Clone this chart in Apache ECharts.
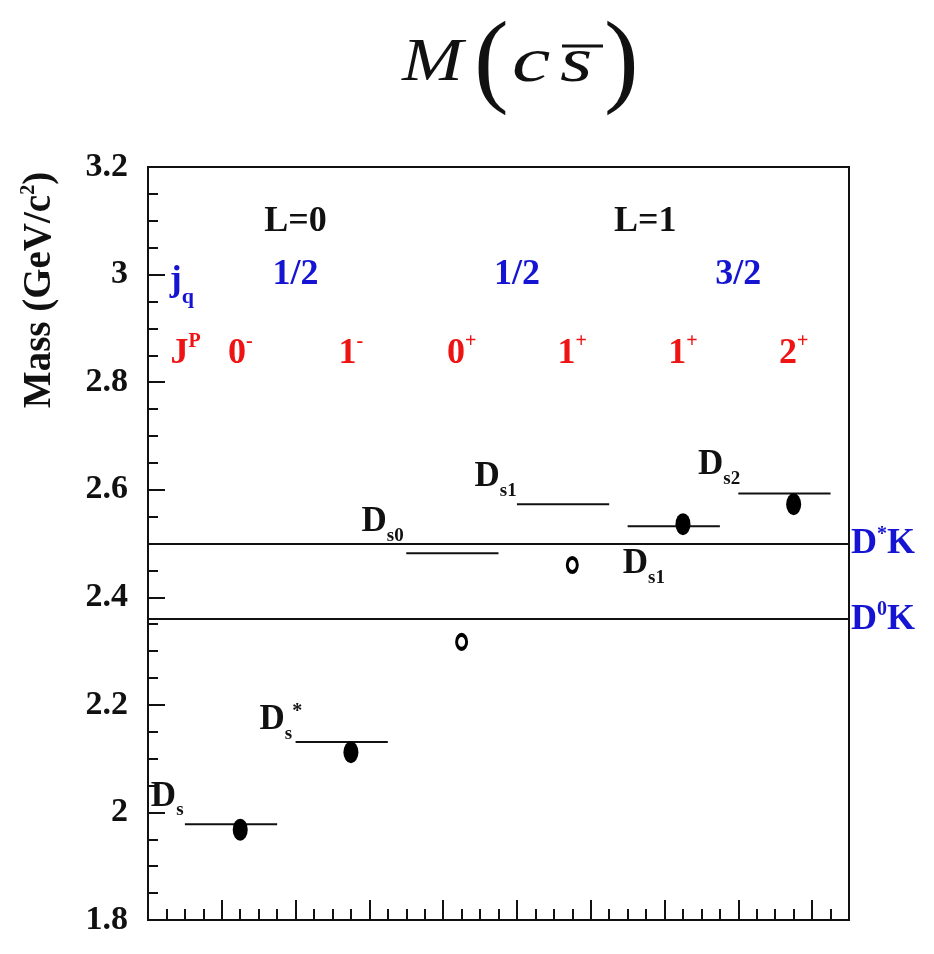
<!DOCTYPE html>
<html>
<head>
<meta charset="utf-8">
<script src="https://cdn.jsdelivr.net/npm/echarts@6/dist/echarts.min.js"></script>
<style>
  html, body { margin: 0; padding: 0; background: #fff; }
  #main { width: 934px; height: 954px; }
</style>
</head>
<body>
<div id="main"></div>
<script>
// level lines (predicted masses) and measured states, in GeV/c^2
const levelStart = [0.5, 2, 3.5, 5, 6.5, 8]
const levelEnd = [1.75, 3.25, 4.75, 6.25, 7.75, 9.25]
const levelMass = [1.978, 2.131, 2.482, 2.573, 2.532, 2.593]
const levelSub = ['s', 's', 's0', 's1', 's1', 's2']
const levelSup = ['', '*', '', '', '', '']
const levelLabelX = [0.26, 1.8, 3.18, 4.71, 6.72, 7.74]
const levelLabelMass = [2.024, 2.167, 2.534, 2.618, 2.456, 2.640]

const filledX = [1.25, 2.75, 7.25, 8.75]
const filledMass = [1.968, 2.112, 2.536, 2.573]
const openX = [4.25, 5.75]
const openMass = [2.317, 2.460]

const thresholdMass = [2.50, 2.358]
const thresholdSup = ['*', '0']

const orbitalLabels = ['L=0', 'L=1']
const orbitalX = [2.0, 6.74]
const orbitalMass = 3.098
const jqLabels = ['1/2', '1/2', '3/2']
const jqX = [2.0, 5.0, 8.0]
const jqMass = 2.999
const jpSpin = ['0', '1', '0', '1', '1', '2']
const jpParity = ['-', '-', '+', '+', '+', '+']
const jpX = [1.25, 2.75, 4.25, 5.75, 7.25, 8.75]
const jpMass = 2.856

const SERIF = '"Liberation Serif", "Times New Roman", serif'
const BLUE = '#1414d2'
const RED = '#ee1414'
const INK = '#111'

const rich = {
  hk: {fontSize: 36, fontWeight: 'bold', fontFamily: SERIF, color: INK},
  hb: {fontSize: 36, fontWeight: 'bold', fontFamily: SERIF, color: BLUE},
  jb: {fontSize: 36, fontWeight: 'bold', fontFamily: SERIF, color: BLUE, verticalAlign: 'top'},
  jbs: {fontSize: 22, fontWeight: 'bold', fontFamily: SERIF, color: BLUE, verticalAlign: 'bottom', padding: [24, 0, 0, 0]},
  rn: {fontSize: 36, fontWeight: 'bold', fontFamily: SERIF, color: RED, verticalAlign: 'bottom', padding: [4, 0, 0, 0]},
  rs: {fontSize: 20, fontWeight: 'bold', fontFamily: SERIF, color: RED, verticalAlign: 'top'},
  dk: {fontSize: 35, fontWeight: 'bold', fontFamily: SERIF, color: INK, verticalAlign: 'top'},
  ds: {fontSize: 19, fontWeight: 'bold', fontFamily: SERIF, color: INK, verticalAlign: 'bottom', padding: [22, 0, 0, 0]},
  dp: {fontSize: 20, fontWeight: 'bold', fontFamily: SERIF, color: INK, verticalAlign: 'top'},
  bn: {fontSize: 36, fontWeight: 'bold', fontFamily: SERIF, color: BLUE, verticalAlign: 'bottom', padding: [1, 0, 0, 0]},
  bs: {fontSize: 20, fontWeight: 'bold', fontFamily: SERIF, color: BLUE, verticalAlign: 'top'}
}

const annotations = []
orbitalLabels.forEach((t, i) => annotations.push({value: [orbitalX[i], orbitalMass], text: '{hk|' + t + '}'}))
jqLabels.forEach((t, i) => annotations.push({value: [jqX[i], jqMass], text: '{hb|' + t + '}'}))
jpSpin.forEach((t, i) => annotations.push({value: [jpX[i], jpMass], text: '{rn|' + t + '}{rs|' + jpParity[i] + '}'}))
annotations.push({value: [0.46, 2.98], text: '{jb|j}{jbs|q}'})
annotations.push({value: [0.51, 2.856], text: '{rn|J}{rs|P}'})
levelSub.forEach((s, i) => annotations.push({
  value: [levelLabelX[i], levelLabelMass[i]],
  text: '{dk|D}{ds|' + s + '}' + (levelSup[i] ? '{dp|' + levelSup[i] + '}' : '')
}))

const chart = echarts.init(document.getElementById('main'), null, {renderer: 'canvas'})

chart.setOption({
  animation: false,
  backgroundColor: '#fff',
  grid: {left: 148, right: 85, top: 167, bottom: 34, show: true, borderColor: INK, borderWidth: 2},
  xAxis: {
    type: 'value', min: 0, max: 9.5, interval: 1,
    axisLine: {lineStyle: {color: INK, width: 2}},
    axisTick: {inside: true, length: 20, lineStyle: {color: INK, width: 2}},
    minorTick: {show: true, splitNumber: 4, length: 11, lineStyle: {color: INK, width: 2}},
    axisLabel: {show: false},
    splitLine: {show: false}
  },
  yAxis: {
    type: 'value', min: 1.8, max: 3.2, interval: 0.2,
    axisLine: {lineStyle: {color: INK, width: 2}},
    axisTick: {inside: true, length: 17, lineStyle: {color: INK, width: 2}},
    minorTick: {show: true, splitNumber: 4, length: 10, lineStyle: {color: INK, width: 2}},
    axisLabel: {margin: 20, fontSize: 34, fontWeight: 'bold', fontFamily: SERIF, color: INK},
    splitLine: {show: false}
  },
  graphic: [
    {type: 'text', x: 39, y: 290, rotation: Math.PI / 2,
      style: {text: '{t|Mass (GeV/c}{s|2}{t|)}', align: 'center', verticalAlign: 'middle',
        rich: {
          t: {fontSize: 39, fontWeight: 'bold', fontFamily: SERIF, fill: INK, verticalAlign: 'bottom', padding: [2, 0, 0, 0]},
          s: {fontSize: 20, fontWeight: 'bold', fontFamily: SERIF, fill: INK, verticalAlign: 'top'}
        }}},
    {type: 'text', x: 402, y: 64, scaleX: 1.18, style: {text: 'M', font: 'italic 62px ' + SERIF, fill: INK, align: 'left', verticalAlign: 'middle'}},
    {type: 'text', x: 474, y: 66, style: {text: '(', font: 'normal 104px ' + SERIF, fill: INK, align: 'left', verticalAlign: 'middle'}},
    {type: 'text', x: 512, y: 64, scaleX: 1.35, style: {text: 'c', font: 'italic 64px ' + SERIF, fill: INK, align: 'left', verticalAlign: 'middle'}},
    {type: 'text', x: 560, y: 64, scaleX: 1.3, style: {text: 's', font: 'italic 64px ' + SERIF, fill: INK, align: 'left', verticalAlign: 'middle'}},
    {type: 'line', shape: {x1: 562, y1: 46, x2: 603, y2: 46}, style: {stroke: INK, lineWidth: 3}},
    {type: 'text', x: 604, y: 66, style: {text: ')', font: 'normal 104px ' + SERIF, fill: INK, align: 'left', verticalAlign: 'middle'}}
  ],
  series: [
    {
      name: 'levels',
      type: 'custom',
      z: 2,
      silent: true,
      data: levelStart.map((s, i) => [s, levelEnd[i], levelMass[i]]),
      encode: {x: [0, 1], y: 2},
      renderItem: function (params, api) {
        const a = api.coord([api.value(0), api.value(2)])
        const b = api.coord([api.value(1), api.value(2)])
        return {type: 'line', shape: {x1: a[0], y1: a[1], x2: b[0], y2: b[1]}, style: {stroke: INK, lineWidth: 2}}
      }
    },
    {
      name: 'measured',
      type: 'scatter',
      z: 4,
      silent: true,
      symbol: 'circle',
      symbolSize: [15, 22],
      itemStyle: {color: '#000', opacity: 1},
      data: filledX.map((x, i) => [x, filledMass[i]]),
      markLine: {
        silent: true,
        symbol: 'none',
        lineStyle: {color: INK, width: 2, type: 'solid', opacity: 1},
        label: {
          show: true, position: 'end', distance: 2,
          formatter: p => '{bn|D}{bs|' + p.data.sup + '}{bn|K}',
          rich: rich
        },
        data: thresholdMass.map((m, i) => ({yAxis: m, sup: thresholdSup[i]}))
      }
    },
    {
      name: 'unconfirmed',
      type: 'scatter',
      z: 4,
      silent: true,
      symbol: 'circle',
      symbolSize: [10, 14],
      itemStyle: {color: '#fff', borderColor: '#000', borderWidth: 3.5, opacity: 1},
      data: openX.map((x, i) => [x, openMass[i]])
    },
    {
      name: 'annotations',
      type: 'scatter',
      z: 5,
      silent: true,
      symbolSize: 0,
      itemStyle: {opacity: 1},
      data: annotations,
      label: {
        show: true, position: 'inside',
        formatter: p => p.data.text,
        rich: rich
      }
    }
  ]
})
</script>
</body>
</html>
